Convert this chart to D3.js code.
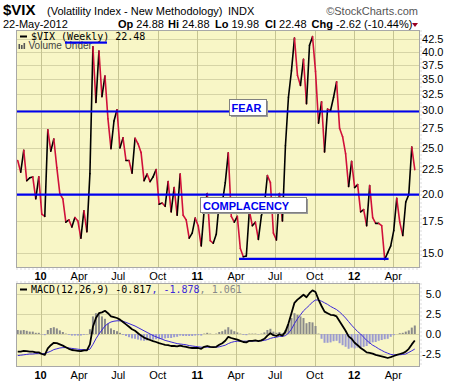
<!DOCTYPE html>
<html lang="en">
<head>
<meta charset="UTF-8">
<title>$VIX Weekly</title>
<script src="https://cdn.jsdelivr.net/npm/d3@7/dist/d3.min.js"></script>
<style>
  body { margin: 0; background: #fff; }
  text { font-family: "Liberation Sans", Arial, sans-serif; }
  .mono { font-family: "DejaVu Sans Mono", monospace; }
</style>
</head>
<body>
<div id="chart"></div>
<script>
var width = 460;
var height = 383;

// weekly closes, one per week starting Monday 9-Nov-2009
var vix = [23.5,22.2,24.7,21.3,21.6,21.7,19.5,21.7,
  18.1,17.9,27.3,24.6,26.1,22.7,20.0,19.5,17.4,17.6,17.0,17.8,17.5,16.1,18.4,16.6,22.05,40.95,31.2,40.1,32.1,35.5,
  28.8,24.9,28.5,30.1,25.0,26.25,23.5,23.5,22.1,26.2,25.5,24.45,21.3,22.0,21.2,21.7,22.5,19.0,19.1,18.8,
  21.2,18.3,20.6,18.0,22.0,18.0,17.6,16.1,16.5,17.75,
  17.1,15.5,18.5,20.0,15.9,15.7,16.4,19.2,19.1,21.1,24.4,17.9,17.4,17.9,15.3,14.7,14.75,18.4,17.1,17.4,
  16.0,17.95,18.9,21.85,21.1,16.5,15.95,20.0,17.5,25.25,32.0,36.4,42.7,35.6,33.9,38.5,31.0,41.25,43.0,36.3,
  28.2,31.3,24.5,30.2,30.0,32.0,34.5,27.5,26.4,24.3,20.7,23.4,
  20.6,20.9,18.3,18.5,17.1,20.8,17.8,17.3,17.3,17.1,14.5,15.0,15.5,16.7,19.55,17.4,16.3,19.2,19.9,25.1,22.48];

var macd = [-2.2,-2.2,-2.1,-2.15,-2.2,-2.2,-2.3,-2.3,
  -2.5,-2.6,-1.8,-1.4,-1.1,-1.15,-1.3,-1.45,-1.65,-1.85,-2.0,-2.05,
  -2.1,-2.15,-2.05,-2.05,-1.3,0.9,2.0,2.6,2.7,2.9,
  2.6,2.2,2.1,2.0,1.8,1.5,1.2,0.9,0.6,0.4,
  0.1,-0.2,-0.45,-0.6,-0.75,-0.9,-1.0,-1.15,-1.25,-1.35,
  -1.4,-1.5,-1.5,-1.55,-1.45,-1.55,-1.6,-1.7,-1.75,-1.75,
  -1.75,-1.85,-1.6,-1.5,-1.6,-1.65,-1.6,-1.35,-1.15,-0.85,
  -0.35,-0.5,-0.6,-0.7,-0.85,-1.0,-1.05,-0.85,-0.85,-0.8,
  -0.9,-0.8,-0.6,-0.2,0.1,-0.15,-0.25,-0.05,-0.2,0.3,
  1.3,2.6,3.9,4.3,4.6,4.9,4.6,5.1,5.45,5.25,
  4.3,3.5,2.8,2.6,2.4,2.35,2.2,1.6,1.0,0.4,
  -0.3,-0.6,-1.1,-1.4,-1.75,-2.0,-2.3,-2.35,-2.45,-2.6,
  -2.7,-2.8,-2.9,-3.0,-2.9,-2.75,-2.6,-2.5,-2.4,-2.2,
  -1.85,-1.3,-0.817];

var signal = [-2.7,-2.65,-2.6,-2.55,-2.5,-2.5,-2.45,-2.45,
  -2.45,-2.45,-2.3,-2.15,-1.95,-1.85,-1.75,-1.7,-1.7,-1.75,-1.8,-1.85,
  -1.9,-1.95,-1.95,-2.0,-1.9,-1.3,-0.6,0.0,0.5,1.0,
  1.3,1.5,1.6,1.65,1.65,1.6,1.45,1.3,1.15,1.0,
  0.8,0.6,0.4,0.2,0.0,-0.2,-0.35,-0.5,-0.65,-0.8,
  -0.9,-1.0,-1.1,-1.2,-1.25,-1.3,-1.35,-1.45,-1.5,-1.55,
  -1.6,-1.65,-1.65,-1.65,-1.65,-1.65,-1.65,-1.6,-1.5,-1.4,
  -1.2,-1.05,-0.95,-0.9,-0.9,-0.9,-0.9,-0.9,-0.9,-0.85,
  -0.85,-0.85,-0.8,-0.7,-0.55,-0.45,-0.4,-0.3,-0.3,-0.2,
  0.1,0.6,1.3,1.9,2.4,2.9,3.25,3.6,4.0,4.25,
  4.25,4.1,3.9,3.7,3.45,3.25,3.05,2.75,2.4,2.0,
  1.55,1.1,0.7,0.3,0.0,-0.4,-0.8,-1.1,-1.4,-1.6,
  -1.85,-2.05,-2.25,-2.4,-2.55,-2.6,-2.6,-2.6,-2.55,-2.5,
  -2.3,-2.1,-1.878];

var hist = [0.5,0.45,0.5,0.4,0.3,0.3,0.15,0.15,
  -0.05,-0.15,0.5,0.75,0.85,0.7,0.45,0.25,0.05,-0.1,-0.2,-0.2,
  -0.2,-0.2,-0.1,-0.05,0.6,2.2,2.6,2.6,2.2,1.9,
  1.3,0.7,0.5,0.35,0.15,-0.1,-0.25,-0.4,-0.55,-0.6,
  -0.7,-0.8,-0.85,-0.8,-0.75,-0.7,-0.65,-0.65,-0.6,-0.55,
  -0.5,-0.5,-0.4,-0.35,-0.2,-0.25,-0.25,-0.25,-0.25,-0.2,
  -0.15,-0.2,0.05,0.15,0.05,0.0,0.05,0.25,0.35,0.55,
  0.85,0.55,0.35,0.2,0.05,-0.1,-0.15,0.05,0.05,0.05,
  -0.05,0.05,0.2,0.5,0.65,0.3,0.15,0.25,0.1,0.5,
  1.2,2.0,2.6,2.4,2.2,2.0,1.35,1.5,1.45,1.0,
  0.05,-0.6,-1.1,-1.1,-1.05,-0.9,-0.85,-1.15,-1.4,-1.6,
  -1.85,-1.7,-1.8,-1.7,-1.75,-1.6,-1.5,-1.25,-1.05,-1.0,
  -0.85,-0.75,-0.65,-0.6,-0.35,-0.15,0.0,0.1,0.15,0.3,
  0.45,0.8,1.061];

var weeks = d3.timeMonday.range(new Date(2009, 10, 9), new Date(2012, 4, 22));

var priceTicks = [15, 17.5, 20, 22.5, 25, 27.5, 30, 32.5, 35, 37.5, 40, 42.5];
var macdTicks = [-2.5, 0, 2.5, 5];
var quarterDates = d3.timeMonth.every(3).range(new Date(2010, 0, 1), new Date(2012, 4, 1));
var quarterLabels = ["10", "Apr", "Jul", "Oct", "11", "Apr", "Jul", "Oct", "12", "Apr"];

var levelValues = [30, 20];
var levelLabels = ["FEAR", "COMPLACENCY"];
var supportValue = 14.55;
var supportDates = [new Date(2011, 3, 8), new Date(2012, 2, 21)];

var svg = d3.select("#chart").append("svg")
    .attr("width", width)
    .attr("height", height);

var L = 16.5, R = 419.5;
var mainTop = 30.5, mainBot = 267.5;
var macdTop = 283.5, macdBot = 366.5;

var x = d3.scaleTime()
    .domain([new Date(2010, 0, 1), new Date(2012, 3, 1)])
    .range([40.5, 393.3]);
var y = d3.scaleLog().domain([15, 40]).range([252.6, 51.5]);
var ym = d3.scaleLinear().domain([-2.5, 5]).range([354, 294]);

var bg = "#f8f6c6";
var hGrid = "#d6d4a6";
var vGrid = "#c6c492";

// ---------- header ----------
svg.append("text").attr("x", 3).attr("y", 15)
    .attr("font-size", 15).attr("font-weight", "bold").text("$VIX");
svg.append("text").attr("x", 47).attr("y", 15).attr("font-size", 11)
    .text("(Volatility Index - New Methodology)");
svg.append("text").attr("x", 228).attr("y", 15).attr("font-size", 11).text("INDX");
svg.append("text").attr("x", 418).attr("y", 15).attr("font-size", 11)
    .attr("text-anchor", "end").attr("fill", "#555").text("\u00a9StockCharts.com");

svg.append("text").attr("x", 3).attr("y", 28).attr("font-size", 11).text("22-May-2012");
var quote = [["Op", "24.88", 118], ["Hi", "24.88", 168], ["Lo", "19.98", 215], ["Cl", "22.48", 265], ["Chg", "-2.62 (-10.44%)", 311.5]];
quote.forEach(function(q) {
  var t = svg.append("text").attr("x", q[2]).attr("y", 28).attr("font-size", 11);
  t.append("tspan").attr("font-weight", "bold").text(q[0] + " ");
  t.append("tspan").text(q[1]);
});
svg.append("path").attr("d", "M412,23 L418,23 L415,27 Z").attr("fill", "#990022");

// ---------- panel helper ----------
function panel(top, bot, yScale, ticks, clipId) {
  var g = svg.append("g");
  g.append("rect").attr("x", L).attr("y", top).attr("width", R - L).attr("height", bot - top)
      .attr("fill", bg);
  g.selectAll(".hg").data(ticks).enter().append("line")
      .attr("x1", L).attr("x2", R)
      .attr("y1", function(d) { return Math.round(yScale(d)) + 0.5; })
      .attr("y2", function(d) { return Math.round(yScale(d)) + 0.5; })
      .attr("stroke", hGrid);
  g.selectAll(".vg").data(quarterDates).enter().append("line")
      .attr("x1", function(d) { return Math.round(x(d)) + 0.5; })
      .attr("x2", function(d) { return Math.round(x(d)) + 0.5; })
      .attr("y1", top).attr("y2", bot)
      .attr("stroke", vGrid);
  svg.append("clipPath").attr("id", clipId).append("rect")
      .attr("x", L).attr("y", top).attr("width", R - L).attr("height", bot - top);
  return g;
}

function border(top, bot) {
  svg.append("rect").attr("x", L).attr("y", top).attr("width", R - L).attr("height", bot - top)
      .attr("fill", "none").attr("stroke", "#a8a8a8");
  svg.append("line").attr("x1", R + 1.5).attr("x2", R + 1.5).attr("y1", top).attr("y2", bot)
      .attr("stroke", "#b8b8b8").attr("stroke-dasharray", "1,3");
}

// ---------- main panel ----------
var main = panel(mainTop, mainBot, y, priceTicks, "clipMain");

main.append("rect").attr("x", 20).attr("y", 35.5).attr("width", 7).attr("height", 2).attr("fill", "#000");
main.append("text").attr("class", "mono").attr("x", 31).attr("y", 39.5).attr("font-size", 10)
    .text("$VIX (Weekly) 22.48");
[[18.5, 44, 5], [21, 45, 4], [23.5, 43, 6]].forEach(function(b) {
  main.append("rect").attr("x", b[0]).attr("y", b[1]).attr("width", 1.6).attr("height", b[2]).attr("fill", "#555");
});
main.append("text").attr("x", 28.5).attr("y", 49).attr("font-size", 10).attr("fill", "#444")
    .text("Volume Under");

var segs = d3.range(1, vix.length).map(function(i) {
  return { a: [weeks[i - 1], vix[i - 1]], b: [weeks[i], vix[i]], up: vix[i] >= vix[i - 1] };
});
var pline = d3.line().x(function(d) { return x(d[0]); }).y(function(d) { return y(d[1]); });
main.append("g").attr("clip-path", "url(#clipMain)")
  .selectAll("path").data(segs).enter().append("path")
    .attr("d", function(d) { return pline([d.a, d.b]); })
    .attr("fill", "none")
    .attr("stroke", function(d) { return d.up ? "#000" : "#d0103a"; })
    .attr("stroke-width", 1.6)
    .attr("stroke-linecap", "round");

main.selectAll(".lvl").data(levelValues).enter().append("line")
    .attr("x1", L).attr("x2", R)
    .attr("y1", function(d) { return y(d) + 1; })
    .attr("y2", function(d) { return y(d) + 1; })
    .attr("stroke", "#0000ee").attr("stroke-width", 2.2);

main.append("line")
    .attr("x1", x(supportDates[0])).attr("x2", x(supportDates[1]))
    .attr("y1", y(supportValue)).attr("y2", y(supportValue))
    .attr("stroke", "#0000ee").attr("stroke-width", 2.2);

// label boxes
var boxes = [{ x: 229.5, y: 99.5, w: 37, h: 16, tx: 231.5, ty: 112 },
             { x: 200.5, y: 197.5, w: 106, h: 15, tx: 203, ty: 209.5 }];
levelLabels.forEach(function(lbl, i) {
  var b = boxes[i];
  main.append("rect").attr("x", b.x + 1.5).attr("y", b.y + 1.5).attr("width", b.w).attr("height", b.h)
      .attr("fill", "#9a9a9a");
  main.append("rect").attr("x", b.x).attr("y", b.y).attr("width", b.w).attr("height", b.h)
      .attr("fill", "#fff").attr("stroke", "#808080");
  main.append("text").attr("x", b.tx).attr("y", b.ty)
      .attr("font-size", 11).attr("font-weight", "bold").attr("fill", "#0000ee").text(lbl);
});

// underline annotation on legend
main.append("rect").attr("x", 65).attr("y", 41.5).attr("width", 42).attr("height", 2.2).attr("fill", "#0000ee");

border(mainTop, mainBot);

svg.selectAll(".ptick").data(priceTicks).enter().append("text")
    .attr("x", 443.5).attr("y", function(d) { return y(d) + 4; })
    .attr("text-anchor", "end").attr("font-size", 11)
    .text(function(d) { return d.toFixed(1); });

function xLabels(yy) {
  svg.selectAll(null).data(quarterDates).enter().append("text")
      .attr("x", function(d) { return x(d); })
      .attr("y", yy)
      .attr("text-anchor", "middle").attr("font-size", 11)
      .attr("font-weight", function(d) { return d.getMonth() === 0 ? "bold" : "normal"; })
      .text(function(d, i) { return quarterLabels[i]; });
}
xLabels(280);

svg.append("line").attr("x1", L).attr("x2", R).attr("y1", mainBot + 1.5).attr("y2", mainBot + 1.5)
    .attr("stroke", "#b8b8b8").attr("stroke-dasharray", "1,3");
svg.append("line").attr("x1", L).attr("x2", R).attr("y1", macdTop - 1.5).attr("y2", macdTop - 1.5)
    .attr("stroke", "#b8b8b8").attr("stroke-dasharray", "1,3");

// ---------- MACD panel ----------
var mp = panel(macdTop, macdBot, ym, macdTicks, "clipMacd");
var mg = mp.append("g").attr("clip-path", "url(#clipMacd)");

mg.selectAll("rect.bar").data(hist).enter().append("rect")
    .attr("class", "bar")
    .attr("x", function(d, i) { return x(weeks[i]) - 1; })
    .attr("width", 2)
    .attr("y", function(d) { return Math.min(ym(d), ym(0)); })
    .attr("height", function(d) { return Math.abs(ym(d) - ym(0)); })
    .attr("fill", function(d) { return d >= 0 ? "#8a8a8a" : "#9c9cd0"; });

var mline = d3.line()
    .x(function(d, i) { return x(weeks[i]); })
    .y(function(d) { return ym(d); });
mg.append("path").attr("d", mline(signal)).attr("fill", "none")
    .attr("stroke", "#3b28d8").attr("stroke-width", 1);
mg.append("path").attr("d", mline(macd)).attr("fill", "none")
    .attr("stroke", "#000").attr("stroke-width", 1.8).attr("stroke-linejoin", "round");

mp.append("rect").attr("x", 20).attr("y", 288.5).attr("width", 7).attr("height", 2).attr("fill", "#000");
var ml = mp.append("text").attr("class", "mono").attr("x", 31).attr("y", 293).attr("font-size", 10);
ml.append("tspan").text("MACD(12,26,9) -0.817");
ml.append("tspan").attr("fill", "#3b28d8").text(", -1.878");
ml.append("tspan").attr("fill", "#888").text(", 1.061");

border(macdTop, macdBot);

svg.selectAll(".mtick").data(macdTicks).enter().append("text")
    .attr("x", 441).attr("y", function(d) { return ym(d) + 4; })
    .attr("text-anchor", "end").attr("font-size", 11)
    .text(function(d) { return d.toFixed(1); });

xLabels(379);
</script>
</body>
</html>
